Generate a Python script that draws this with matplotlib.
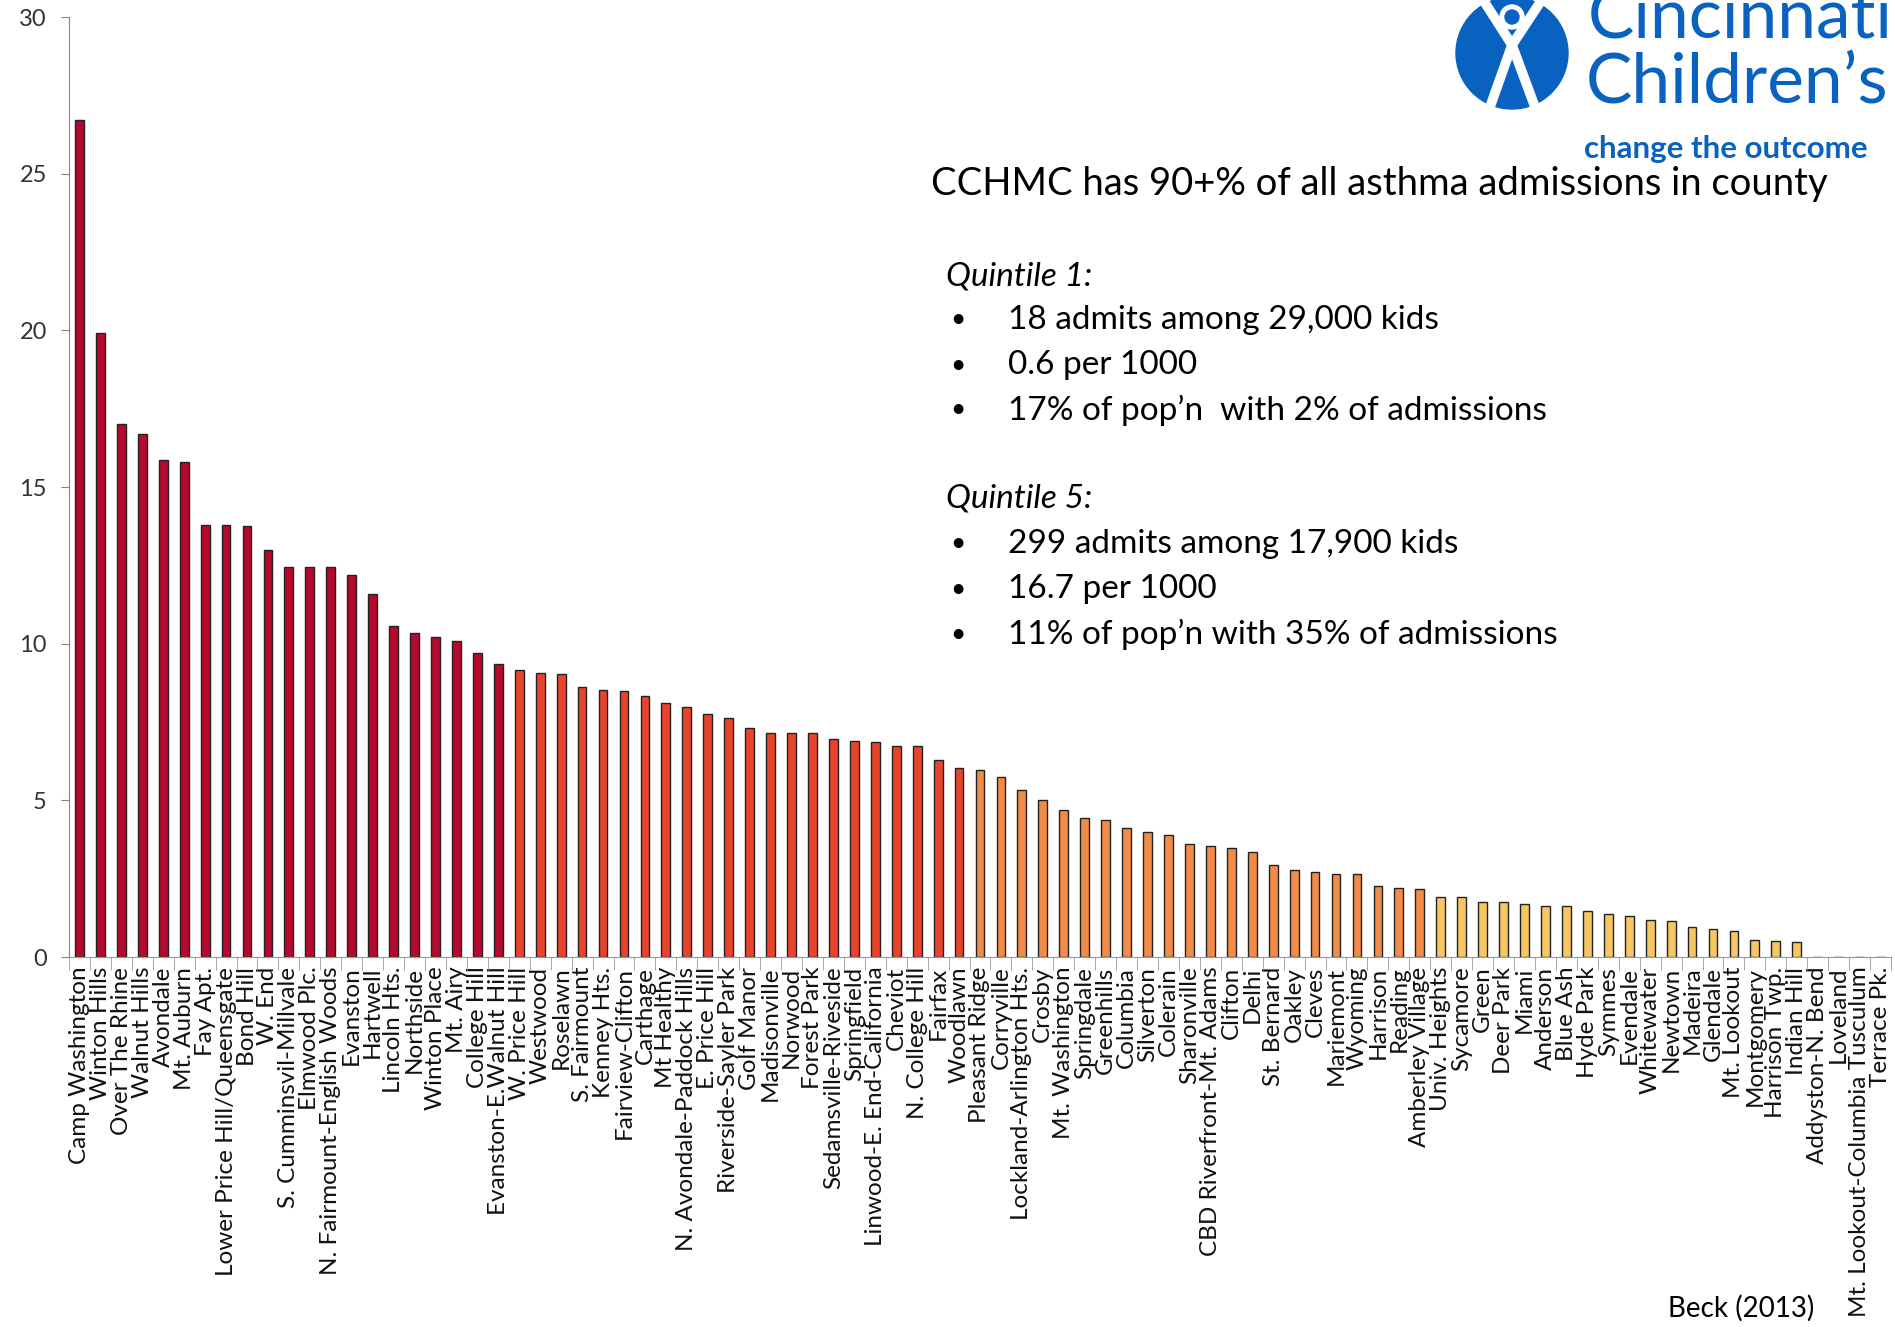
import matplotlib.pyplot as plt
from matplotlib.patches import Circle

neighborhoods = [
    "Camp Washington", "Winton Hills", "Over The Rhine", "Walnut Hills", "Avondale",
    "Mt. Auburn", "Fay Apt.", "Lower Price Hill/Queensgate", "Bond Hill", "W. End",
    "S. Cumminsvil-Millvale", "Elmwood Plc.", "N. Fairmount-English Woods", "Evanston",
    "Hartwell", "Lincoln Hts.", "Northside", "Winton Place", "Mt. Airy", "College Hill",
    "Evanston-E.Walnut Hill", "W. Price Hill", "Westwood", "Roselawn", "S. Fairmount",
    "Kenney Hts.", "Fairview-Clifton", "Carthage", "Mt Healthy", "N. Avondale-Paddock Hills",
    "E. Price Hill", "Riverside-Sayler Park", "Golf Manor", "Madisonville", "Norwood",
    "Forest Park", "Sedamsville-Riveside", "Springfield", "Linwood-E. End-California",
    "Cheviot", "N. College Hill", "Fairfax", "Woodlawn", "Pleasant Ridge", "Corryville",
    "Lockland-Arlington Hts.", "Crosby", "Mt. Washington", "Springdale", "Greenhills",
    "Columbia", "Silverton", "Colerain", "Sharonville", "CBD Riverfront-Mt. Adams",
    "Clifton", "Delhi", "St. Bernard", "Oakley", "Cleves", "Mariemont", "Wyoming",
    "Harrison", "Reading", "Amberley Village", "Univ. Heights", "Sycamore", "Green",
    "Deer Park", "Miami", "Anderson", "Blue Ash", "Hyde Park", "Symmes", "Evendale",
    "Whitewater", "Newtown", "Madeira", "Glendale", "Mt. Lookout", "Montgomery",
    "Harrison Twp.", "Indian Hill", "Addyston-N. Bend", "Loveland",
    "Mt. Lookout-Columbia Tusculum", "Terrace Pk.",
]

# admissions per 1000 kids
rates = [
    26.7, 19.9, 17.0, 16.7, 15.85, 15.8, 13.8, 13.8, 13.75, 13.0,
    12.45, 12.45, 12.45, 12.2, 11.6, 10.55, 10.35, 10.2, 10.1, 9.7,
    9.35, 9.15, 9.06, 9.02, 8.62, 8.53, 8.49, 8.32, 8.12, 7.97,
    7.76, 7.64, 7.3, 7.15, 7.15, 7.15, 6.95, 6.9, 6.86, 6.73,
    6.73, 6.28, 6.03, 5.96, 5.74, 5.34, 5.02, 4.7, 4.45, 4.38,
    4.12, 4.0, 3.88, 3.6, 3.55, 3.47, 3.34, 2.94, 2.77, 2.72,
    2.65, 2.65, 2.28, 2.19, 2.16, 1.9, 1.9, 1.74, 1.74, 1.7,
    1.62, 1.62, 1.46, 1.37, 1.3, 1.17, 1.14, 0.97, 0.88, 0.84,
    0.55, 0.52, 0.48, 0, 0, 0, 0,
]

# how many neighborhoods fall in each colour group, highest first
group_sizes = [21, 22, 22, 22]
group_colors = ["#B50A2D", "#E8442B", "#F08C47", "#F5C662"]

bar_colors = []
for size, col in zip(group_sizes, group_colors):
    bar_colors += [col] * size

W, H = 1895, 1327
fig = plt.figure(figsize=(W / 100, H / 100), dpi=100)
plt.rcParams["font.family"] = ["Lato", "DejaVu Sans"]

ax = fig.add_axes([69 / W, 1 - 957 / H, (1891 - 69) / W, (957 - 17) / H])
x = range(len(rates))
ax.bar(x, rates, width=0.42, color=bar_colors, edgecolor="#222222", linewidth=1.0)

ax.set_xlim(-0.5, len(rates) - 0.5)
ax.set_ylim(0, 30)
ax.set_yticks(range(0, 31, 5))
ax.tick_params(axis="y", labelsize=17, labelcolor="#333333", color="#888888",
               length=6, direction="out", pad=10)
ax.set_xticks(list(x))
ax.set_xticklabels(neighborhoods, rotation=90, fontsize=17.5, color="#111111")
ax.tick_params(axis="x", length=0, pad=7)
ax.set_xticks([i - 0.5 for i in range(len(rates) + 1)], minor=True)
ax.tick_params(axis="x", which="minor", length=9, color="#999999", direction="out")
for side in ["top", "right"]:
    ax.spines[side].set_visible(False)
ax.spines["left"].set_color("#888888")
ax.spines["bottom"].set_color("#999999")


def fx(px):
    return px / W


def fy(py):
    return 1 - py / H


fig.text(fx(931), fy(184), "CCHMC has 90+% of all asthma admissions in county",
         fontsize=27.5, va="center", ha="left")

lines_q1 = ["18 admits among 29,000 kids", "0.6 per 1000",
            "17% of pop\u2019n  with 2% of admissions"]
lines_q5 = ["299 admits among 17,900 kids", "16.7 per 1000",
            "11% of pop\u2019n with 35% of admissions"]

fig.text(fx(946), fy(276), "Quintile 1:", fontsize=24, style="italic", va="center")
for i, s in enumerate(lines_q1):
    y = 320 + i * 45
    fig.text(fx(950), fy(y), "\u2022", fontsize=19, va="center")
    fig.text(fx(1008), fy(y), s, fontsize=24, va="center")

fig.text(fx(946), fy(498), "Quintile 5:", fontsize=24, style="italic", va="center")
for i, s in enumerate(lines_q5):
    y = 544 + i * 45
    fig.text(fx(950), fy(y), "\u2022", fontsize=19, va="center")
    fig.text(fx(1008), fy(y), s, fontsize=24, va="center")

fig.text(fx(1668), fy(1308), "Beck (2013)", fontsize=20, va="center")

# logo
blue = "#0A62C0"
fig.text(fx(1588), fy(38), "Cincinnati", fontsize=50, color=blue, va="baseline")
fig.text(fx(1586), fy(104), "Children\u2019s", fontsize=50, color=blue, va="baseline")
fig.text(fx(1584), fy(158), "change the outcome", fontsize=22.5, fontweight="bold",
         color=blue, va="baseline", ha="left")

lax = fig.add_axes([1450 / W, 1 - 115 / H, 125 / W, 125 / H])
lax.set_xlim(0, 125)
lax.set_ylim(0, 125)
lax.axis("off")
lax.add_patch(Circle((62, 62), 56, color=blue))
lax.plot([30, 62, 95], [120, 70, 120], color="white", lw=7, solid_capstyle="round")
lax.plot([62, 40], [70, 8], color="white", lw=7)
lax.plot([62, 85], [70, 8], color="white", lw=7)
lax.add_patch(Circle((62, 98), 12, color="white"))
lax.add_patch(Circle((62, 98), 7, color=blue))

fig.savefig("out.png", dpi=100)
